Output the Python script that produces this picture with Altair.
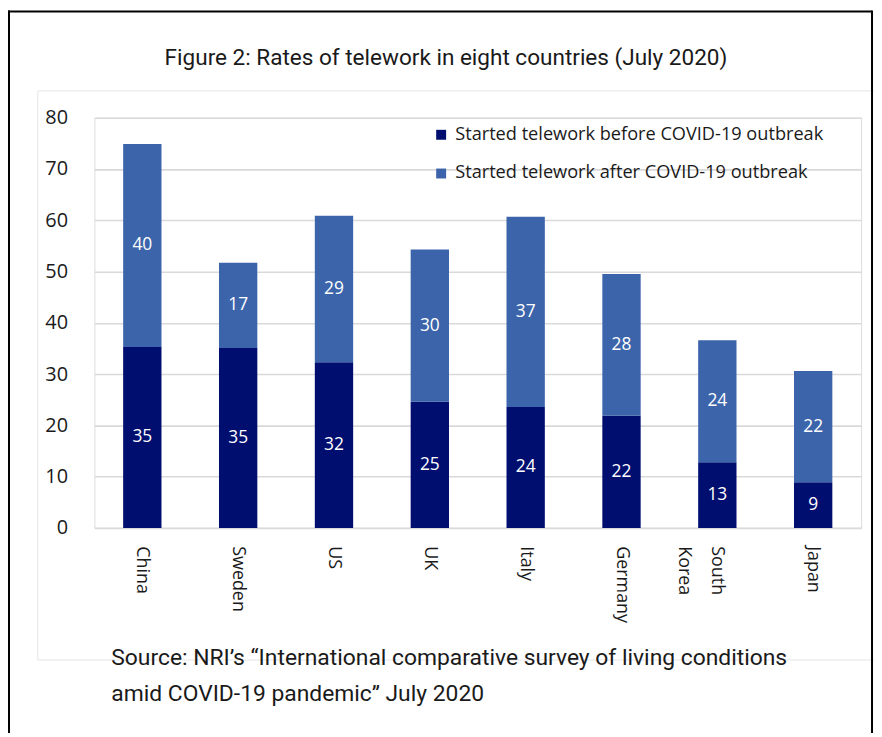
import altair as alt
import pandas as pd

countries = ["China", "Sweden", "US", "UK", "Italy", "Germany", "South Korea", "Japan"]
before = [35.3, 35.1, 32.3, 24.6, 23.6, 21.9, 12.8, 8.9]
after = [39.6, 16.6, 28.6, 29.7, 37.1, 27.6, 23.8, 21.7]
series = ["Started telework before COVID-19 outbreak", "Started telework after COVID-19 outbreak"]
colors = ["#000E70", "#3C64AA"]
y_ticks = [0, 10, 20, 30, 40, 50, 60, 70, 80]
title_text = "Figure 2: Rates of telework in eight countries (July 2020)"
source_lines = ["Source: NRI\u2019s \u201cInternational comparative survey of living conditions",
                "amid COVID-19 pandemic\u201d July 2020"]

rows = []
for c, b, a in zip(countries, before, after):
    rows.append({"country": c, "series": series[0], "start": 0, "end": b,
                 "mid": b / 2, "label": str(int(round(b)))})
    rows.append({"country": c, "series": series[1], "start": b, "end": b + a,
                 "mid": b + a / 2, "label": str(int(round(a)))})
df = pd.DataFrame(rows)

FONT = "Open Sans"
NARROW = "Roboto"

xenc = alt.X("country:N", sort=countries,
             scale=alt.Scale(paddingInner=0.6, paddingOuter=0.3),
             axis=alt.Axis(title=None, labelAngle=90, labelFontSize=18, labelFont=FONT,
                           labelColor="#1a1a1a", labelPadding=18, domain=False, ticks=False,
                           labelLineHeight=34,
                           labelExpr="datum.label == 'South Korea' ? ['South', 'Korea'] : datum.label"))

base = alt.Chart(df)
bars = base.mark_bar().encode(
    x=xenc,
    y=alt.Y("start:Q", scale=alt.Scale(domain=[0, 80], nice=False),
            axis=alt.Axis(title=None, values=y_ticks, labelFontSize=20, labelFont=FONT,
                          labelColor="#1a1a1a", labelPadding=27, domain=False, ticks=False,
                          gridColor="#d9d9d9", gridWidth=1.6)),
    y2="end:Q",
    color=alt.Color("series:N", sort=series,
                    scale=alt.Scale(domain=series, range=colors),
                    legend=alt.Legend(title=None, orient="none", legendX=340, legendY=8,
                                      symbolType="square", symbolSize=100, symbolStrokeWidth=0,
                                      labelFontSize=18.3, labelFont=FONT, labelColor="#1a1a1a",
                                      labelOffset=5, rowPadding=20, padding=0,
                                      labelLimit=500)),
)
labels = base.mark_text(color="white", fontSize=17.5, font=FONT).encode(
    x=alt.X("country:N", sort=countries),
    y=alt.Y("mid:Q"),
    text="label:N",
)

one = pd.DataFrame({"k": [0]})
frame_col = "#e6e6e6"
inner_top = alt.Chart(one).mark_rule(color=frame_col, strokeWidth=1).encode(
    x=alt.value(-57), x2=alt.value(790), y=alt.value(-27))
inner_bottom = alt.Chart(one).mark_rule(color=frame_col, strokeWidth=1).encode(
    x=alt.value(-57), x2=alt.value(790), y=alt.value(546))
inner_left = alt.Chart(one).mark_rule(color=frame_col, strokeWidth=1).encode(
    x=alt.value(-57), y=alt.value(-27), y2=alt.value(546))
outer_top = alt.Chart(one).mark_rule(color="black", strokeWidth=2).encode(
    x=alt.value(-87), x2=alt.value(783), y=alt.value(-107))
outer_left = alt.Chart(one).mark_rule(color="black", strokeWidth=2).encode(
    x=alt.value(-86), y=alt.value(-108), y2=alt.value(620))
outer_right = alt.Chart(one).mark_rule(color="black", strokeWidth=2).encode(
    x=alt.value(783), y=alt.value(-108), y2=alt.value(620))

title = alt.Chart(pd.DataFrame({"t": [title_text]})).mark_text(
    font=NARROW, fontSize=22.7, align="center", baseline="alphabetic", color="#1a1a1a").encode(
    x=alt.value(354), y=alt.value(-53), text="t:N")
src1 = alt.Chart(pd.DataFrame({"t": [source_lines[0]]})).mark_text(
    font=NARROW, fontSize=23, align="left", baseline="alphabetic", color="#1a1a1a").encode(
    x=alt.value(17), y=alt.value(551), text="t:N")
src2 = alt.Chart(pd.DataFrame({"t": [source_lines[1]]})).mark_text(
    font=NARROW, fontSize=23, align="left", baseline="alphabetic", color="#1a1a1a").encode(
    x=alt.value(17), y=alt.value(587), text="t:N")

chart = alt.layer(
    inner_top, inner_bottom, inner_left, outer_top, outer_left, outer_right,
    bars, labels, title, src1, src2
).properties(
    width=772, height=413,
    autosize=alt.AutoSizeParams(type="none"),
    padding={"left": 87, "top": 108, "right": 13, "bottom": 204},
).configure_view(stroke=None).configure(background="white")

chart.save("out.html", embed_options={"renderer": "svg", "actions": False})
